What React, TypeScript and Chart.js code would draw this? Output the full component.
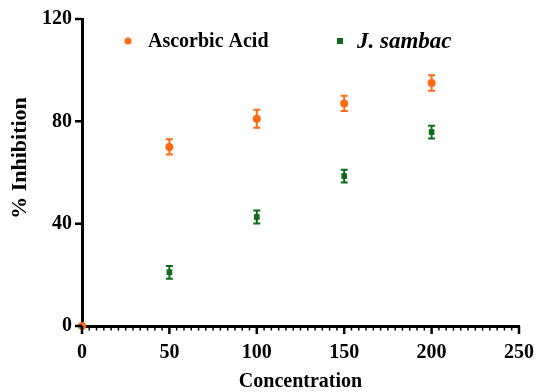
import React, { useEffect, useRef } from "react";
import { Chart, registerables } from "chart.js";

Chart.register(...registerables);

const concentrations = [0, 50, 100, 150, 200];
const ascorbicValues = [0, 70, 81, 87, 95];
const ascorbicErrors = [0, 3, 3.5, 3, 3];
const sambacValues = [0, 21, 42.6, 58.6, 75.8];
const sambacErrors = [0, 2.5, 2.5, 2.5, 2.5];
const yTicks = [0, 40, 80, 120];
const xMajorTicks = [0, 50, 100, 150, 200, 250];
const minorPerMajor = 12;
const yTitle = "% Inhibition";
const xTitle = "Concentration";

const ORANGE = "#ff6a13";
const GREEN = "#0b6b1a";
const FONT = "'Liberation Serif', 'Times New Roman', serif";

const errorBarPlugin = {
  id: "errorBars",
  afterDatasetsDraw(chart: any) {
    const ctx = chart.ctx;
    const ys = chart.scales.y;
    chart.data.datasets.forEach((ds: any, di: number) => {
      const meta = chart.getDatasetMeta(di);
      const errs: number[] = ds.errors || [];
      meta.data.forEach((pt: any, i: number) => {
        const e = errs[i];
        if (!e) return;
        const v = ds.data[i].y;
        const top = ys.getPixelForValue(v + e);
        const bot = ys.getPixelForValue(v - e);
        const x = pt.x;
        ctx.save();
        ctx.strokeStyle = ds.borderColor;
        ctx.lineWidth = 2;
        ctx.beginPath();
        ctx.moveTo(x, top);
        ctx.lineTo(x, bot);
        ctx.moveTo(x - 3.5, top);
        ctx.lineTo(x + 3.5, top);
        ctx.moveTo(x - 3.5, bot);
        ctx.lineTo(x + 3.5, bot);
        ctx.stroke();
        ctx.restore();
      });
    });
  },
};

const axisTicksPlugin = {
  id: "axisTicks",
  afterDraw(chart: any) {
    const ctx = chart.ctx;
    const xs = chart.scales.x;
    const ys = chart.scales.y;
    const area = chart.chartArea;
    ctx.save();
    ctx.strokeStyle = "#000";
    ctx.lineWidth = 2.5;
    ctx.beginPath();
    yTicks.forEach((t) => {
      const py = ys.getPixelForValue(t);
      ctx.moveTo(area.left, py);
      ctx.lineTo(area.left - 7, py);
    });
    xMajorTicks.forEach((t) => {
      const px = xs.getPixelForValue(t);
      ctx.moveTo(px, area.bottom);
      ctx.lineTo(px, area.bottom + 8);
    });
    ctx.stroke();
    ctx.lineWidth = 1.5;
    ctx.beginPath();
    for (let m = 0; m < xMajorTicks.length - 1; m++) {
      const a = xMajorTicks[m];
      const b = xMajorTicks[m + 1];
      for (let k = 1; k < minorPerMajor; k++) {
        const px = xs.getPixelForValue(a + ((b - a) * k) / minorPerMajor);
        ctx.moveTo(px, area.bottom);
        ctx.lineTo(px, area.bottom + 4.5);
      }
    }
    ctx.stroke();

    // y axis title
    ctx.save();
    ctx.translate(20, 158);
    ctx.rotate(-Math.PI / 2);
    ctx.fillStyle = "#000";
    ctx.font = `bold 22px ${FONT}`;
    ctx.textAlign = "center";
    ctx.textBaseline = "middle";
    ctx.fillText(yTitle, 0, 0);
    ctx.restore();
    ctx.restore();
  },
};

const legendPlugin = {
  id: "customLegend",
  afterDraw(chart: any) {
    const ctx = chart.ctx;
    ctx.save();
    ctx.fillStyle = ORANGE;
    ctx.beginPath();
    ctx.arc(128, 41, 3.5, 0, Math.PI * 2);
    ctx.fill();
    ctx.fillStyle = "#000";
    ctx.textBaseline = "middle";
    ctx.font = `bold 20px ${FONT}`;
    ctx.fillText("Ascorbic Acid", 148, 42);
    ctx.fillStyle = GREEN;
    ctx.fillRect(337, 38, 6, 6);
    ctx.fillStyle = "#000";
    ctx.font = `italic bold 23px ${FONT}`;
    ctx.fillText("J. sambac", 357, 42);
    ctx.restore();
  },
};

export default function App() {
  const ref = useRef<HTMLCanvasElement | null>(null);
  useEffect(() => {
    document.body.style.margin = "0";
    const chart = new Chart(ref.current as HTMLCanvasElement, {
      type: "scatter",
      data: {
        datasets: [
          {
            label: "Ascorbic Acid",
            data: concentrations.map((c, i) => ({ x: c, y: ascorbicValues[i] })),
            errors: ascorbicErrors,
            backgroundColor: ORANGE,
            borderColor: ORANGE,
            pointStyle: "circle",
            pointRadius: 4,
            borderWidth: 0,
            clip: false,
          } as any,
          {
            label: "J. sambac",
            data: concentrations.map((c, i) => ({ x: c, y: sambacValues[i] })),
            errors: sambacErrors,
            backgroundColor: GREEN,
            borderColor: GREEN,
            pointStyle: "rect",
            pointRadius: 4,
            borderWidth: 0,
            clip: false,
          } as any,
        ],
      },
      options: {
        animation: false,
        responsive: true,
        maintainAspectRatio: false,
        layout: { padding: { top: 19, right: 17, left: 0, bottom: 0 } },
        plugins: { legend: { display: false }, tooltip: { enabled: false } },
        scales: {
          x: {
            type: "linear",
            min: 0,
            max: 250,
            grid: { display: false, drawTicks: false, tickLength: 0 },
            border: { display: true, color: "#000", width: 3 },
            ticks: {
              stepSize: 50,
              color: "#000",
              padding: 15,
              font: { family: FONT, size: 20, weight: "bold" },
              maxRotation: 0,
            },
            title: {
              display: true,
              text: xTitle,
              color: "#000",
              font: { family: FONT, size: 20, weight: "bold" },
              padding: { top: 0, bottom: -2 },
            },
            afterFit(scale: any) {
              scale.height = 66;
              scale.paddingRight = 0;
              scale.paddingLeft = 0;
            },
          },
          y: {
            type: "linear",
            min: 0,
            max: 120,
            grid: { display: false, drawTicks: false, tickLength: 0 },
            border: { display: true, color: "#000", width: 3 },
            ticks: {
              stepSize: 40,
              color: "#000",
              padding: 10,
              font: { family: FONT, size: 20, weight: "bold" },
            },
            title: { display: false },
            afterFit(scale: any) {
              scale.width = 82;
              scale.paddingTop = 0;
              scale.paddingBottom = 0;
            },
          },
        },
      } as any,
      plugins: [errorBarPlugin, axisTicksPlugin, legendPlugin],
    });
    return () => chart.destroy();
  }, []);
  return (
    <div style={{ width: 536, height: 392, position: "relative" }}>
      <canvas ref={ref} />
    </div>
  );
}
